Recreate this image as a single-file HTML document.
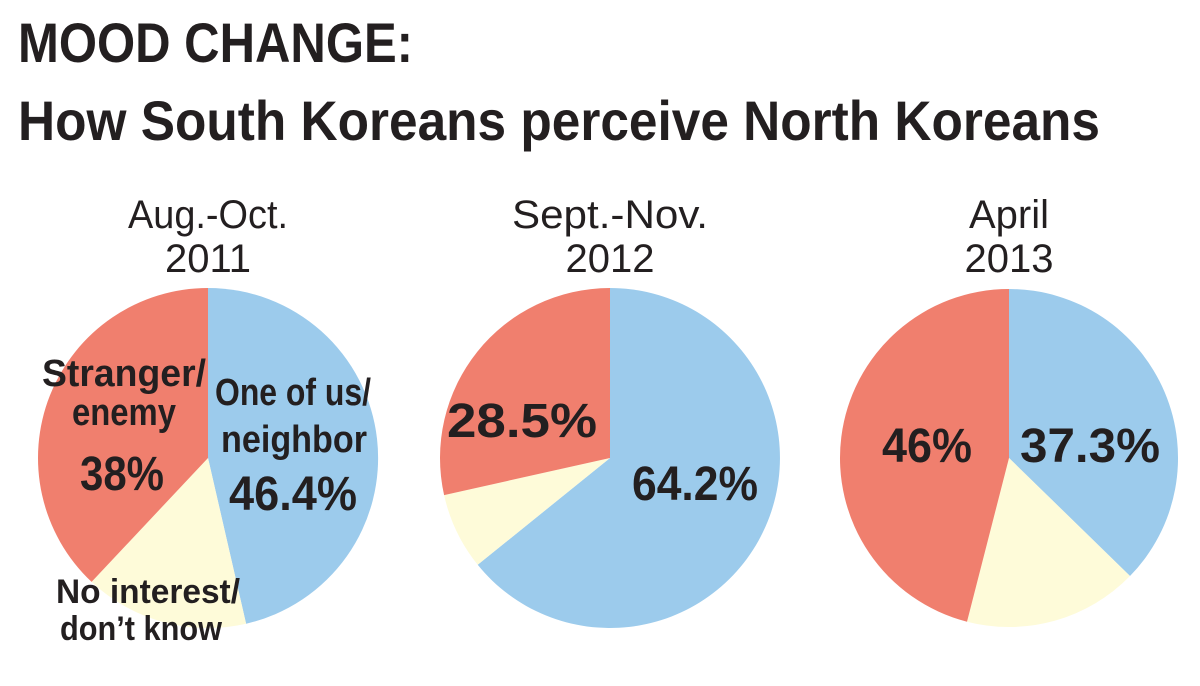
<!DOCTYPE html>
<html><head><meta charset="utf-8"><style>
html,body{margin:0;padding:0;background:#fff;}
svg{display:block;}
.t{font-family:"Liberation Sans Narrow","Liberation Sans",sans-serif;font-weight:bold;fill:#231f20;}
.h{font-family:"Liberation Sans","DejaVu Sans",sans-serif;fill:#231f20;font-size:40px;}
</style></head><body>
<svg width="1200" height="686" viewBox="0 0 1200 686" xmlns="http://www.w3.org/2000/svg">
<rect width="1200" height="686" fill="#fff"/>
<text class="t" x="18" y="62" font-size="56" textLength="395" lengthAdjust="spacingAndGlyphs">MOOD CHANGE:</text>
<text class="t" x="18" y="140" font-size="56" textLength="1082" lengthAdjust="spacingAndGlyphs">How South Koreans perceive North Koreans</text>

<text class="h" x="208" y="228" text-anchor="middle" textLength="160" lengthAdjust="spacingAndGlyphs">Aug.-Oct.</text>
<text class="h" x="208" y="272" text-anchor="middle">2011</text>
<text class="h" x="610" y="228" text-anchor="middle" textLength="196" lengthAdjust="spacingAndGlyphs">Sept.-Nov.</text>
<text class="h" x="610" y="272" text-anchor="middle">2012</text>
<text class="h" x="1009" y="228" text-anchor="middle">April</text>
<text class="h" x="1009" y="272" text-anchor="middle">2013</text>

<path d="M208 458 L208 288 A170 170 0 0 1 246.1 623.7 Z" fill="#9ccbec"/>
<path d="M208 458 L246.1 623.7 A170 170 0 0 1 91.6 581.9 Z" fill="#fefbd9"/>
<path d="M208 458 L91.6 581.9 A170 170 0 0 1 208 288 Z" fill="#f07f6e"/>

<path d="M610 458 L610 288 A170 170 0 1 1 477.7 564.8 Z" fill="#9ccbec"/>
<path d="M610 458 L477.7 564.8 A170 170 0 0 1 444.1 495.1 Z" fill="#fefbd9"/>
<path d="M610 458 L444.1 495.1 A170 170 0 0 1 610 288 Z" fill="#f07f6e"/>

<path d="M1009 458 L1009 289 A169 169 0 0 1 1130 576 Z" fill="#9ccbec"/>
<path d="M1009 458 L1130 576 A169 169 0 0 1 967 621.7 Z" fill="#fefbd9"/>
<path d="M1009 458 L967 621.7 A169 169 0 0 1 1009 289 Z" fill="#f07f6e"/>

<text class="t" x="124" y="386" font-size="38" text-anchor="middle" textLength="164" lengthAdjust="spacingAndGlyphs">Stranger/</text>
<text class="t" x="124" y="425" font-size="38" text-anchor="middle" textLength="104" lengthAdjust="spacingAndGlyphs">enemy</text>
<text class="t" x="122" y="490" font-size="48" text-anchor="middle" textLength="84" lengthAdjust="spacingAndGlyphs">38%</text>
<text class="t" x="293" y="405" font-size="38" text-anchor="middle" textLength="156" lengthAdjust="spacingAndGlyphs">One of us/</text>
<text class="t" x="294" y="452" font-size="38" text-anchor="middle" textLength="146" lengthAdjust="spacingAndGlyphs">neighbor</text>
<text class="t" x="293" y="510" font-size="48" text-anchor="middle" textLength="128" lengthAdjust="spacingAndGlyphs">46.4%</text>
<text class="t" x="148" y="603" font-size="34" text-anchor="middle" textLength="184" lengthAdjust="spacingAndGlyphs">No interest/</text>
<text class="t" x="141" y="640" font-size="34" text-anchor="middle" textLength="162" lengthAdjust="spacingAndGlyphs">don’t know</text>

<text class="t" x="522" y="437" font-size="48" text-anchor="middle" textLength="150" lengthAdjust="spacingAndGlyphs">28.5%</text>
<text class="t" x="695" y="500" font-size="48" text-anchor="middle" textLength="126" lengthAdjust="spacingAndGlyphs">64.2%</text>
<text class="t" x="927" y="462" font-size="48" text-anchor="middle" textLength="90" lengthAdjust="spacingAndGlyphs">46%</text>
<text class="t" x="1090" y="462" font-size="48" text-anchor="middle" textLength="140" lengthAdjust="spacingAndGlyphs">37.3%</text>
</svg>
</body></html>
